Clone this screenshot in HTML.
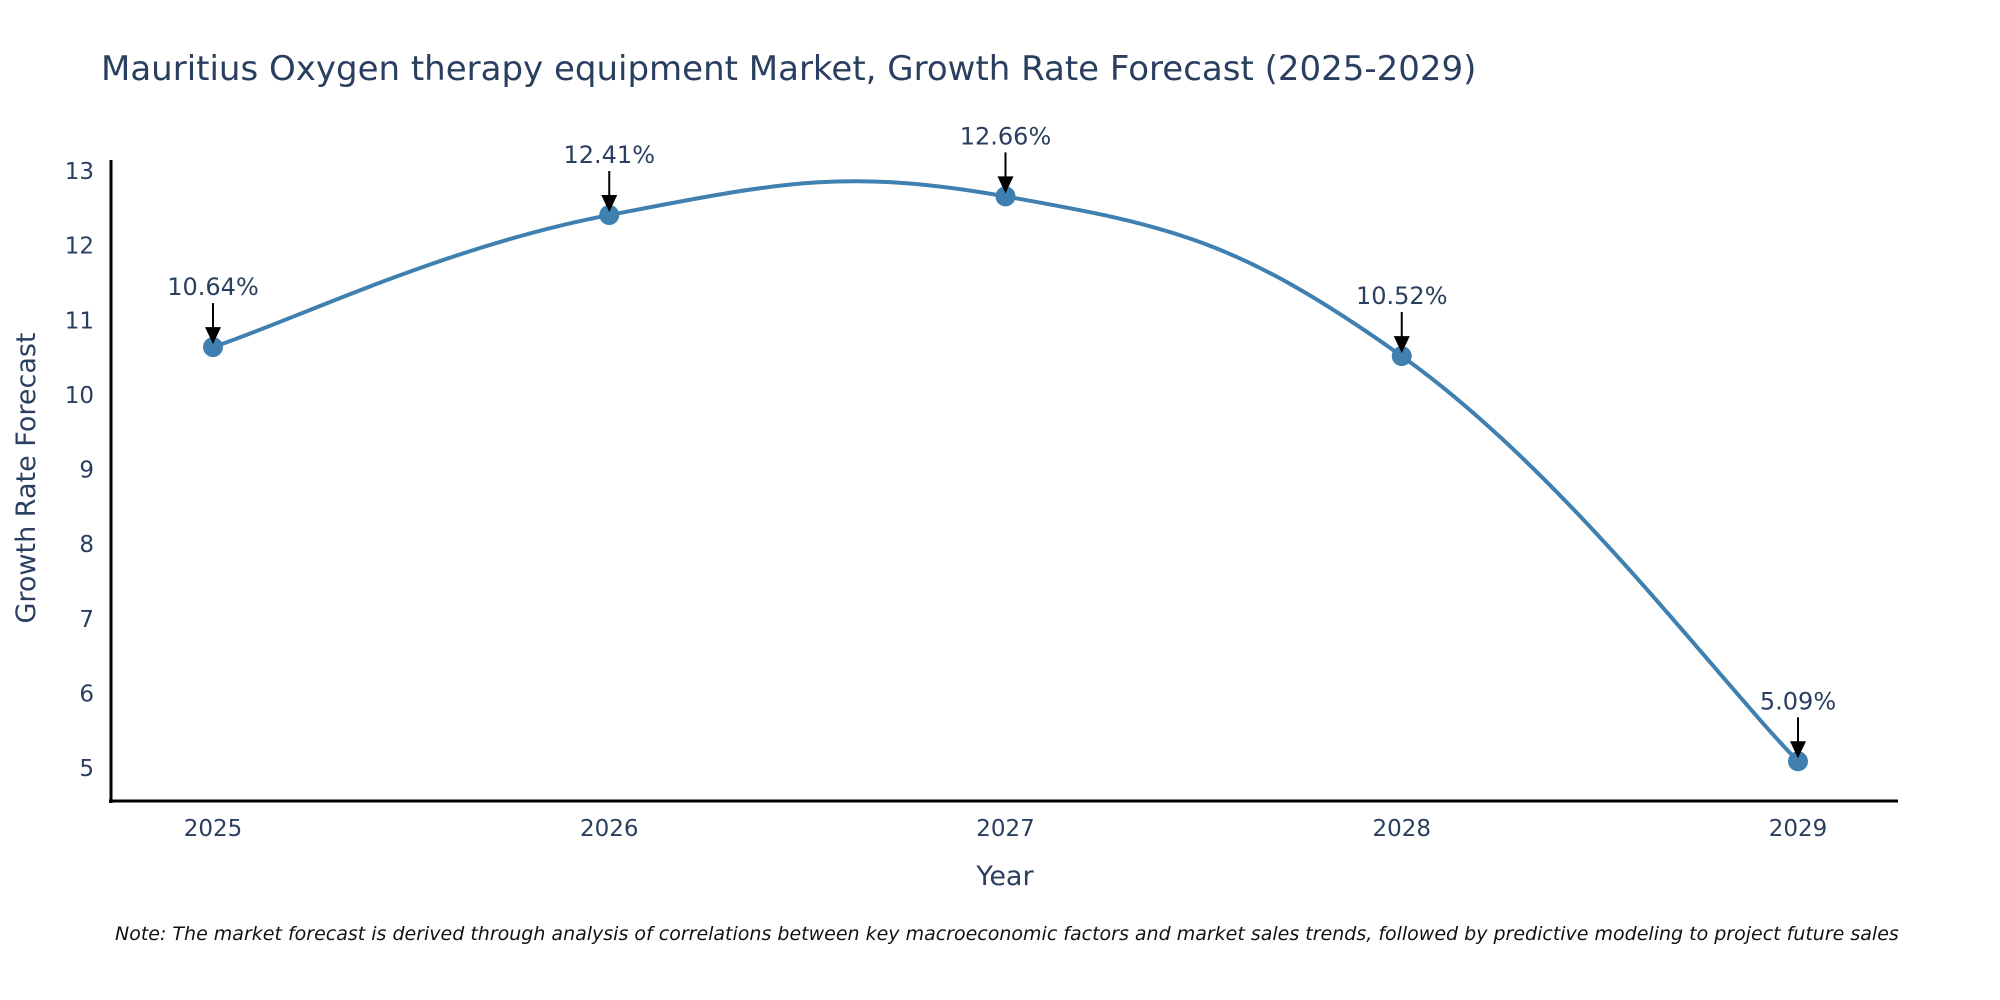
<!DOCTYPE html>
<html><head><meta charset="utf-8"><style>
body{margin:0;background:#fff;}
svg{display:block;font-family:"DejaVu Sans","Liberation Sans",sans-serif;}
</style></head><body>
<svg id="chart" width="2000" height="1000">
<text x="101" y="80" font-size="34" fill="#2a3f5f">Mauritius Oxygen therapy equipment Market, Growth Rate Forecast (2025-2029)</text>
<g id="yticks"></g>
<g id="xticks"></g>
<path id="line" fill="none" stroke="#3f80b0" stroke-width="4"></path>
<g id="points"></g>
<g id="annots"></g>
<line x1="111" y1="160" x2="111" y2="803" stroke="#000" stroke-width="3"/>
<line x1="109" y1="801" x2="1898" y2="801" stroke="#000" stroke-width="3"/>
<text x="1005" y="885" font-size="27" fill="#2a3f5f" text-anchor="middle">Year</text>
<text transform="translate(35,478) rotate(-90)" font-size="27" fill="#2a3f5f" text-anchor="middle">Growth Rate Forecast</text>
<text x="115" y="940" font-size="19" font-style="italic" fill="#111">Note: The market forecast is derived through analysis of correlations between key macroeconomic factors and market sales trends, followed by predictive modeling to project future sales</text>
</svg>
<script>
const years = [2025, 2026, 2027, 2028, 2029];
const values = [10.64, 12.41, 12.66, 10.52, 5.09];
const labels = ["10.64%", "12.41%", "12.66%", "10.52%", "5.09%"];
const yTicks = [5, 6, 7, 8, 9, 10, 11, 12, 13];

const NS = "http://www.w3.org/2000/svg";
const xS = v => 213 + (v - 2025) * (1798 - 213) / 4;
const yS = v => 768 - (v - 5) * (768 - 171) / 8;
function mk(tag, attrs, parent) {
  const e = document.createElementNS(NS, tag);
  for (const k in attrs) e.setAttribute(k, attrs[k]);
  parent.appendChild(e);
  return e;
}
const yt = document.getElementById('yticks');
yTicks.forEach(t => {
  const e = mk('text', {x: 94, y: yS(t) + 8, 'font-size': 23, fill: '#2a3f5f', 'text-anchor': 'end'}, yt);
  
  
  e.textContent = t;
});
const xt = document.getElementById('xticks');
years.forEach(y => {
  const e = mk('text', {x: xS(y), y: 836, 'font-size': 23, fill: '#2a3f5f', 'text-anchor': 'middle'}, xt);
  
  
  e.textContent = y;
});
const pts = years.map((y, i) => [xS(y), yS(values[i])]);
let d = `M${pts[0][0]},${pts[0][1]}`;
const tns = 0.62;
for (let i = 0; i < pts.length - 1; i++) {
  const p0 = pts[i - 1] || pts[i], p1 = pts[i], p2 = pts[i + 1], p3 = pts[i + 2] || pts[i + 1];
  const c1 = [p1[0] + (p2[0] - p0[0]) * tns / 3, p1[1] + (p2[1] - p0[1]) * tns / 3];
  const c2 = [p2[0] - (p3[0] - p1[0]) * tns / 3, p2[1] - (p3[1] - p1[1]) * tns / 3];
  d += ` C${c1[0]},${c1[1]} ${c2[0]},${c2[1]} ${p2[0]},${p2[1]}`;
}
document.getElementById('line').setAttribute('d', d);
const pg = document.getElementById('points');
const ag = document.getElementById('annots');
pts.forEach((p, i) => {
  const c = mk('circle', {cx: p[0], cy: p[1], r: 10, fill: '#3f80b0'}, pg);
  
  
  const l = mk('line', {x1: p[0], y1: p[1] - 44, x2: p[0], y2: p[1] - 14, stroke: '#000', 'stroke-width': 2}, ag);
  
  
  const h = mk('polygon', {points: `${p[0] - 8},${p[1] - 20} ${p[0] + 8},${p[1] - 20} ${p[0]},${p[1] - 3}`, fill: '#000'}, ag);
  
  
  const t = mk('text', {x: p[0], y: p[1] - 52, 'font-size': 24, fill: '#2a3f5f', 'text-anchor': 'middle'}, ag);
  
  
  t.textContent = labels[i];
});
</script>
</body></html>
